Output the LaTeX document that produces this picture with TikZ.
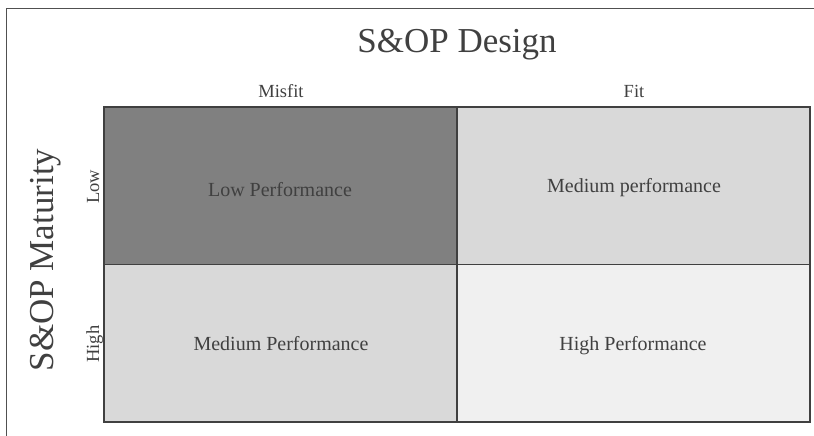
\documentclass[tikz,border=0pt]{standalone}
\usepackage{fontspec}
\setmainfont{Liberation Serif}
\definecolor{txt}{HTML}{404040}
\definecolor{cdark}{HTML}{808080}
\definecolor{cmed}{HTML}{D9D9D9}
\definecolor{clight}{HTML}{F0F0F0}
\definecolor{frame}{HTML}{505050}
\begin{document}
\begin{tikzpicture}[x=1pt,y=-1pt,
  cell/.style={draw=txt,line width=1.4pt,rectangle,inner sep=0pt,minimum width=353pt,minimum height=157.5pt},
  celltext/.style={text=txt,font=\fontsize{20}{24}\selectfont,anchor=base,inner sep=0pt},
  axlabel/.style={text=txt,font=\fontsize{18.5}{22}\selectfont,anchor=base,inner sep=0pt},
  title/.style={text=txt,font=\fontsize{35}{40}\selectfont,anchor=base,inner sep=0pt}]
\useasboundingbox (0,0) rectangle (814,436);
\coordinate (fTL) at (6,9);
\coordinate (fTR) at (814,9);
\coordinate (fBL) at (6,436);
\draw[frame,line width=1pt] (fTR) -- (fTL) -- (fBL);
% cells
\node[cell,fill=cdark]  (c11) at (280.5,185.75) {};
\node[cell,fill=cmed]   (c12) at (633.5,185.75) {};
\node[cell,fill=cmed]   (c21) at (280.5,343.25) {};
\node[cell,fill=clight] (c22) at (633.5,343.25) {};
% cell texts
\node[celltext] (t11) at (280,196) {Low Performance};
\node[celltext] (t12) at (634,192) {Medium performance};
\node[celltext] (t21) at (281,350) {Medium Performance};
\node[celltext] (t22) at (633,350) {High Performance};
% column labels
\node[axlabel] (misfit) at (281,97) {Misfit};
\node[axlabel] (fit) at (634,97) {Fit};
% row labels
\node[axlabel,rotate=90] (low) at (99,187) {Low};
\node[axlabel,rotate=90] (high) at (99,344) {High};
% titles
\node[title] (design) at (457,53) {S\&OP Design};
\node[title,rotate=90] (maturity) at (53,260) {S\&OP Maturity};
\end{tikzpicture}
\end{document}
